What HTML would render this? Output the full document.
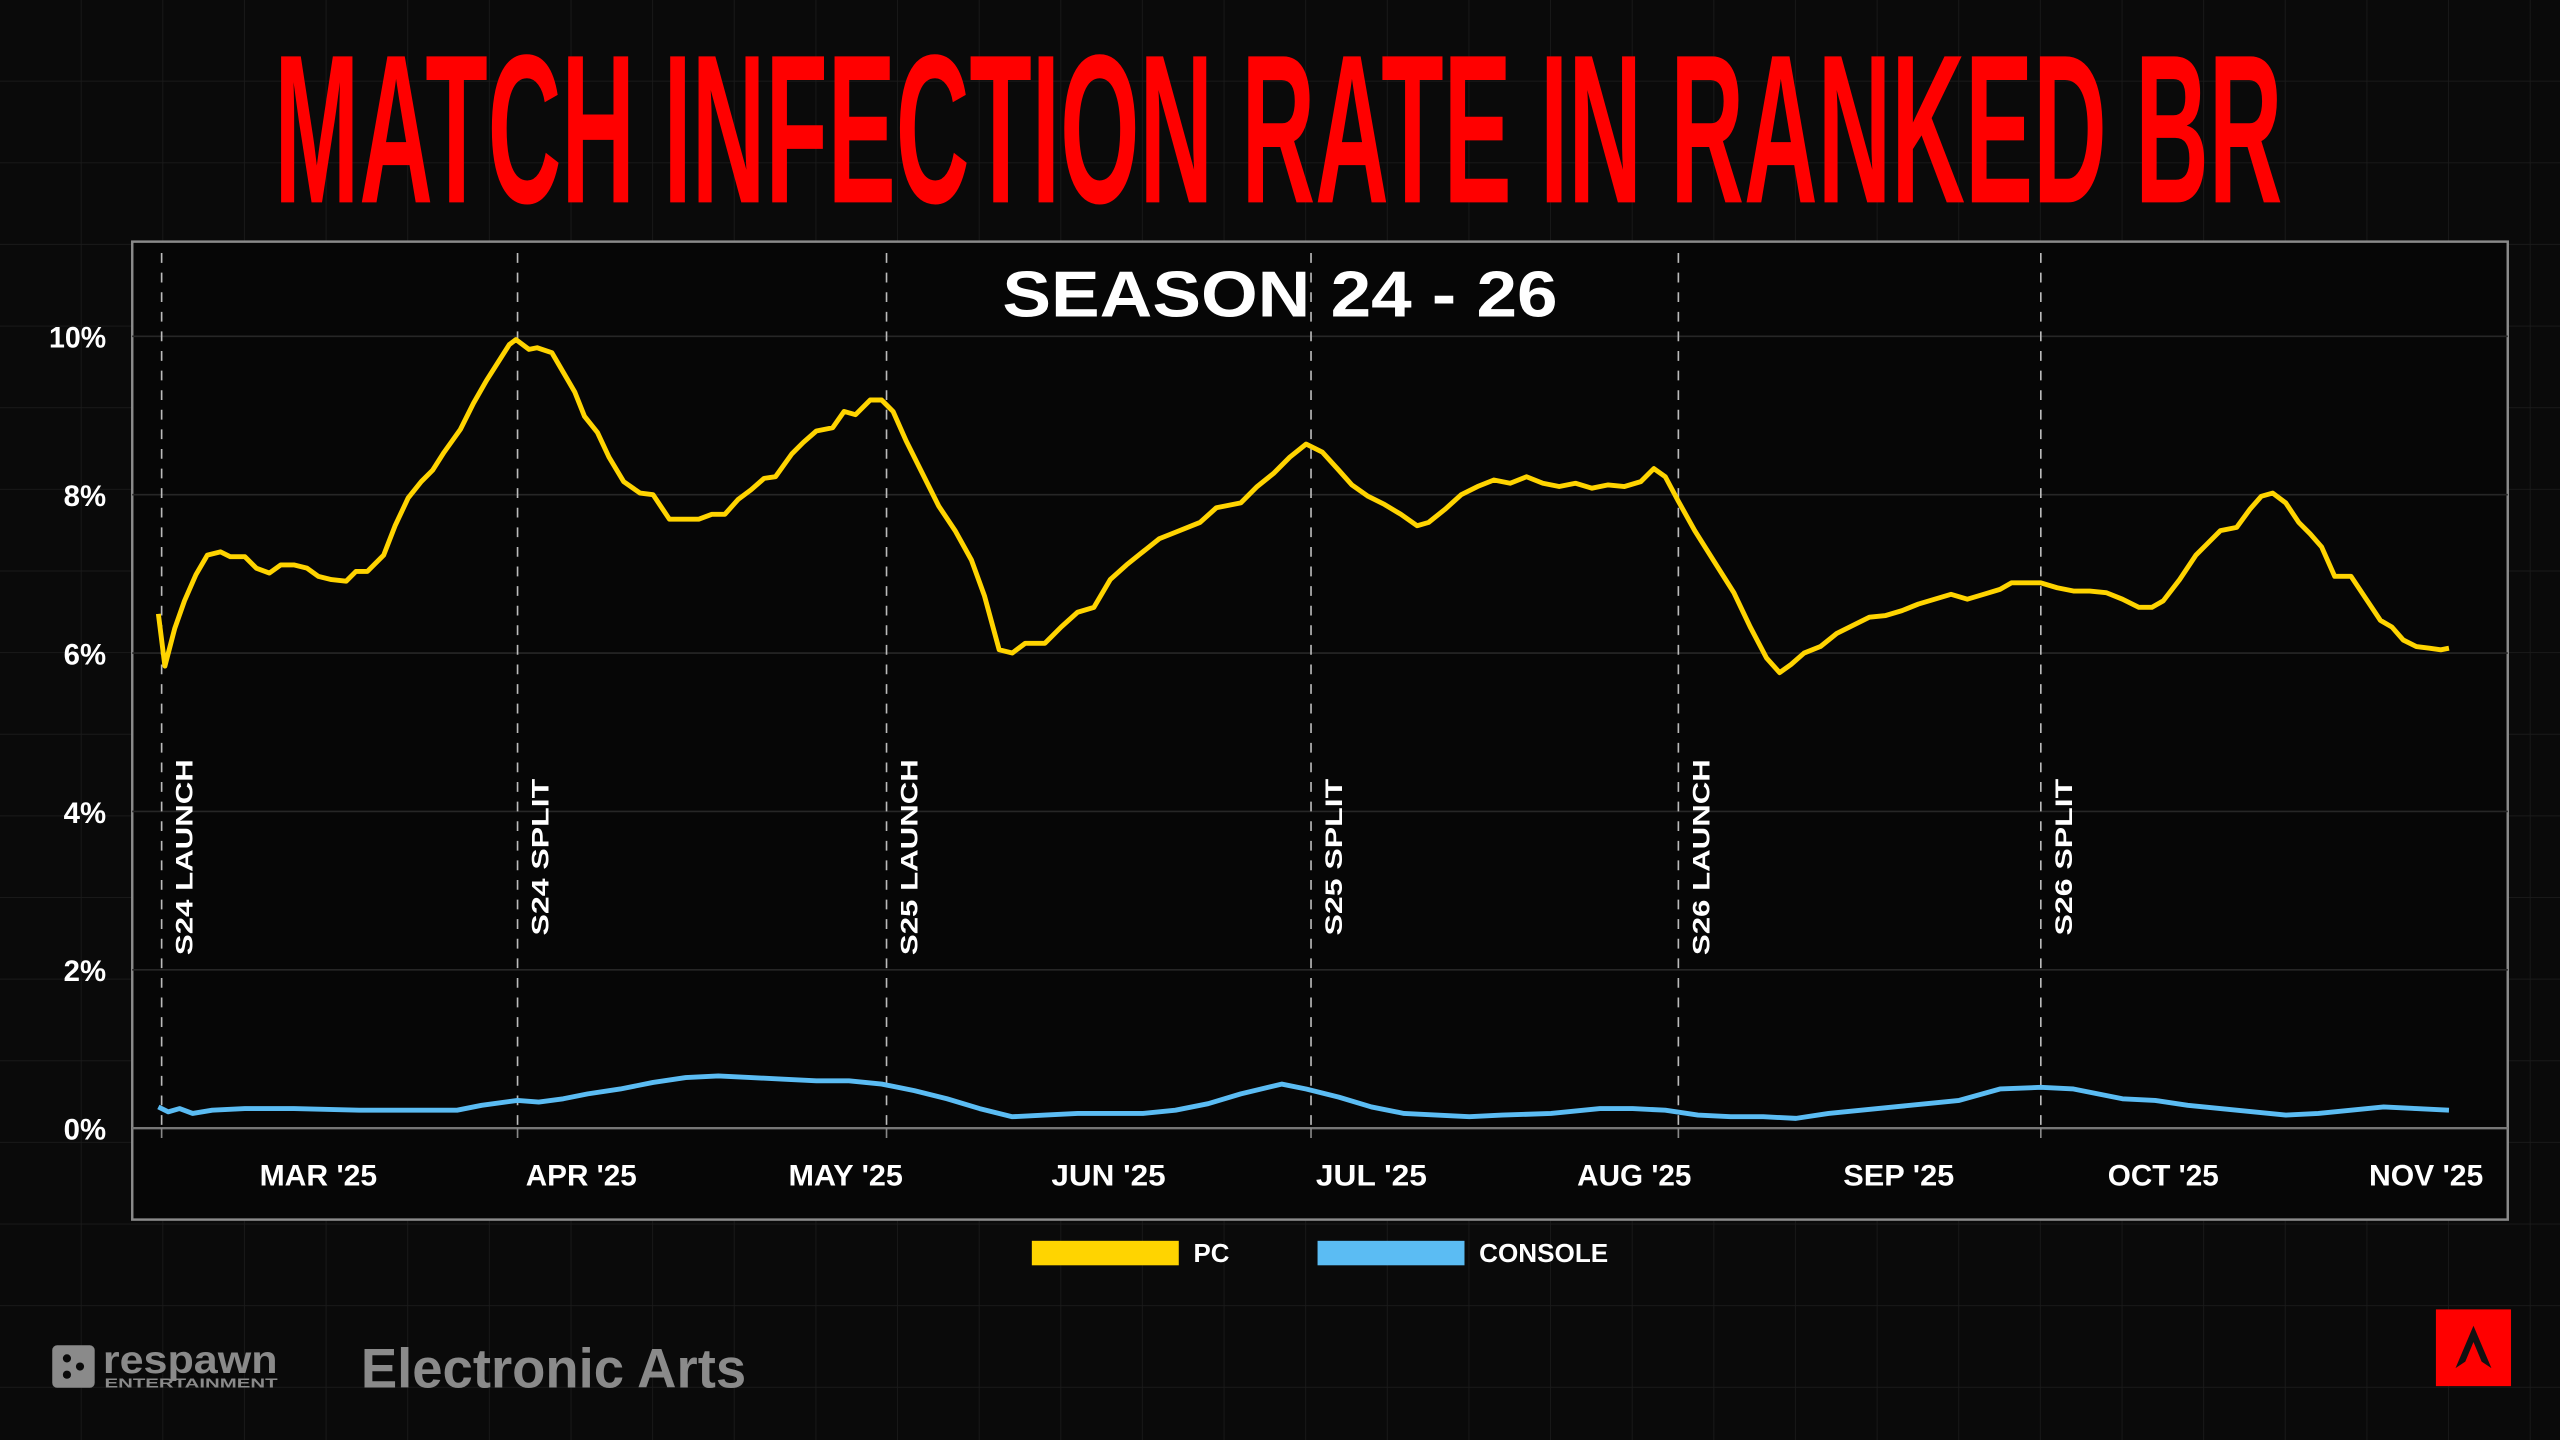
<!DOCTYPE html>
<html><head><meta charset="utf-8"><style>
html,body{margin:0;padding:0;background:#0a0a0a;width:2560px;height:1440px;overflow:hidden}
svg{display:block}
text{font-family:"Liberation Sans",sans-serif;font-weight:bold}
</style></head><body>
<svg width="2560" height="1440" viewBox="0 0 1568 882" preserveAspectRatio="none">
<defs>
<pattern id="g" width="50" height="50" patternUnits="userSpaceOnUse">
<path d="M50 0V50M0 50H50" stroke="#1b1b1b" stroke-width="1" fill="none"/>
</pattern>
</defs>
<rect width="1568" height="882" fill="#0a0a0a"/>
<rect width="1568" height="882" fill="url(#g)"/>
<text x="168" y="124" fill="#ff0000" font-size="130" textLength="1230" lengthAdjust="spacingAndGlyphs">MATCH INFECTION RATE IN RANKED BR</text>
<rect x="81" y="148" width="1455" height="599" fill="#060606" stroke="#8a8a8a" stroke-width="1.5"/>
<g stroke="#262626" stroke-width="1">
<path d="M81 206H1536M81 303H1536M81 400H1536M81 497H1536M81 594H1536"/>
</g>
<path d="M81 691H1536" stroke="#777" stroke-width="1.5"/>
<g stroke="#bbb" stroke-width="1" stroke-dasharray="6,6">
<path d="M99 155V691M317 155V691M543 155V691M803 155V691M1028 155V691M1250 155V691"/>
</g>
<g stroke="#888" stroke-width="1"><path d="M99 691V697M317 691V697M543 691V697M803 691V697M1028 691V697M1250 691V697"/></g>
<text x="784" y="194" fill="#fff" font-size="40" text-anchor="middle" textLength="340" lengthAdjust="spacingAndGlyphs">SEASON 24 - 26</text>
<g fill="#fff" font-size="18" text-anchor="end">
<text x="65" y="213" textLength="35" lengthAdjust="spacingAndGlyphs">10%</text>
<text x="65" y="310" textLength="26" lengthAdjust="spacingAndGlyphs">8%</text>
<text x="65" y="407" textLength="26" lengthAdjust="spacingAndGlyphs">6%</text>
<text x="65" y="504" textLength="26" lengthAdjust="spacingAndGlyphs">4%</text>
<text x="65" y="601" textLength="26" lengthAdjust="spacingAndGlyphs">2%</text>
<text x="65" y="698" textLength="26" lengthAdjust="spacingAndGlyphs">0%</text>
</g>
<g fill="#fff" font-size="18" text-anchor="middle">
<text x="195" y="726" textLength="72" lengthAdjust="spacingAndGlyphs">MAR '25</text>
<text x="356" y="726" textLength="68" lengthAdjust="spacingAndGlyphs">APR '25</text>
<text x="518" y="726" textLength="70" lengthAdjust="spacingAndGlyphs">MAY '25</text>
<text x="679" y="726" textLength="70" lengthAdjust="spacingAndGlyphs">JUN '25</text>
<text x="840" y="726" textLength="68" lengthAdjust="spacingAndGlyphs">JUL '25</text>
<text x="1001" y="726" textLength="70" lengthAdjust="spacingAndGlyphs">AUG '25</text>
<text x="1163" y="726" textLength="68" lengthAdjust="spacingAndGlyphs">SEP '25</text>
<text x="1325" y="726" textLength="68" lengthAdjust="spacingAndGlyphs">OCT '25</text>
<text x="1486" y="726" textLength="70" lengthAdjust="spacingAndGlyphs">NOV '25</text>
</g>
<g fill="#fff" font-size="15" font-weight="normal">
<text transform="translate(118,585) rotate(-90)" textLength="120" lengthAdjust="spacingAndGlyphs">S24 LAUNCH</text>
<text transform="translate(336,573) rotate(-90)" textLength="96" lengthAdjust="spacingAndGlyphs">S24 SPLIT</text>
<text transform="translate(562,585) rotate(-90)" textLength="120" lengthAdjust="spacingAndGlyphs">S25 LAUNCH</text>
<text transform="translate(822,573) rotate(-90)" textLength="96" lengthAdjust="spacingAndGlyphs">S25 SPLIT</text>
<text transform="translate(1047,585) rotate(-90)" textLength="120" lengthAdjust="spacingAndGlyphs">S26 LAUNCH</text>
<text transform="translate(1269,573) rotate(-90)" textLength="96" lengthAdjust="spacingAndGlyphs">S26 SPLIT</text>
</g>
<polyline fill="none" stroke="#5bbcf3" stroke-width="3" stroke-linejoin="round" points="97,678 103,681 110,679 118,682 130,680 150,679 180,679 220,680 260,680 280,680 295,677 317,674 330,675 345,673 360,670 380,667 400,663 420,660 440,659 460,660 480,661 500,662 520,662 540,664 560,668 580,673 600,679 620,684 640,683 660,682 680,682 700,682 720,680 740,676 760,670 785,664 800,667 820,672 840,678 860,682 880,683 900,684 920,683 950,682 980,679 1000,679 1020,680 1040,683 1060,684 1080,684 1100,685 1120,682 1140,680 1160,678 1180,676 1200,674 1225,667 1250,666 1270,667 1285,670 1300,673 1320,674 1340,677 1360,679 1380,681 1400,683 1420,682 1440,680 1460,678 1480,679 1500,680"/>
<polyline fill="none" stroke="#ffd400" stroke-width="3" stroke-linejoin="round" points="97,376 101,408 107,385 113,368 120,352 127,340 135,338 141,341 150,341 157,348 165,351 172,346 180,346 188,348 195,353 203,355 212,356 218,350 225,350 235,340 242,322 250,305 258,295 265,288 272,277 282,263 290,247 298,233 305,222 312,211 316,208 324,214 329,213 338,216 345,228 352,240 358,255 366,265 373,280 382,295 392,302 400,303 410,318 420,318 428,318 436,315 444,315 452,306 460,300 468,293 475,292 485,278 492,271 500,264 510,262 517,252 524,254 533,245 540,245 547,252 555,270 565,290 575,310 585,325 595,343 603,365 612,398 620,400 628,394 640,394 650,384 660,375 670,372 680,355 690,346 700,338 710,330 720,326 735,320 745,311 760,308 770,298 780,290 790,280 800,272 810,277 820,288 828,297 838,304 848,309 858,315 868,322 875,320 885,312 895,303 905,298 915,294 925,296 935,292 945,296 955,298 965,296 975,299 985,297 995,298 1005,295 1013,287 1020,292 1028,307 1038,325 1050,344 1062,363 1072,384 1082,403 1090,412 1097,407 1105,400 1115,396 1125,388 1135,383 1145,378 1155,377 1165,374 1175,370 1185,367 1195,364 1205,367 1215,364 1225,361 1232,357 1242,357 1250,357 1260,360 1270,362 1280,362 1290,363 1300,367 1310,372 1318,372 1325,368 1335,355 1345,340 1352,333 1360,325 1370,323 1378,312 1385,304 1392,302 1400,308 1408,320 1415,327 1422,335 1430,353 1440,353 1450,368 1458,380 1465,384 1472,392 1480,396 1488,397 1495,398 1500,397"/>
<rect x="632" y="760" width="90" height="15" fill="#ffd400"/>
<text x="731" y="773" fill="#fff" font-size="16" font-weight="normal" textLength="22" lengthAdjust="spacingAndGlyphs">PC</text>
<rect x="807" y="760" width="90" height="15" fill="#5bbcf3"/>
<text x="906" y="773" fill="#fff" font-size="16" font-weight="normal" textLength="79" lengthAdjust="spacingAndGlyphs">CONSOLE</text>
<rect x="32" y="824" width="26" height="26" rx="3" fill="#8a8a8a"/>
<g fill="#0a0a0a"><circle cx="41" cy="832" r="2.5"/><circle cx="41" cy="842" r="2.5"/><circle cx="49" cy="837" r="2.5"/></g>
<text x="63" y="841" fill="#8a8a8a" font-size="24" textLength="107" lengthAdjust="spacingAndGlyphs">respawn</text>
<text x="64" y="850" fill="#8a8a8a" font-size="8" font-weight="normal" textLength="106" lengthAdjust="spacingAndGlyphs">ENTERTAINMENT</text>
<text x="221" y="850" fill="#8a8a8a" font-size="34" textLength="236" lengthAdjust="spacingAndGlyphs">Electronic Arts</text>
<rect x="1492" y="802" width="46" height="47" fill="#ff0000"/>
<path d="M1515 812 L1504 838 L1510 834 L1515 822 L1520 834 L1526 838 Z" fill="#111"/>
</svg>
</body></html>
